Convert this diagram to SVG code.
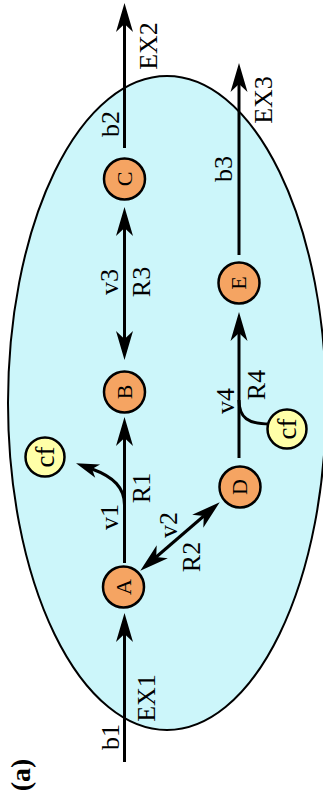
<svg xmlns="http://www.w3.org/2000/svg" width="323" height="799" viewBox="0 0 323 799">
<defs>
<style>
.bg{fill:#fff}
.cell{fill:#ccf6fa;stroke:#000;stroke-width:2}
.met{fill:#f5a462;stroke:#000;stroke-width:2.5}
.cf{fill:#ffffa8;stroke:#000;stroke-width:2.5}
.ln{fill:none;stroke:#000;stroke-width:3}
text{font-family:"Liberation Serif","Times New Roman",serif;fill:#000}
.lab{font-size:26px}
.nl{font-size:22px;text-anchor:middle}
.cft{font-size:27px;text-anchor:middle}
</style>
<marker id="ah" markerUnits="userSpaceOnUse" viewBox="-10 -10 32 20" markerWidth="32" markerHeight="20" refX="0" refY="0" orient="auto-start-reverse">
<path d="M-8,-8.5 L21,0 L-8,8.5 L0,0 Z" fill="#000"/>
</marker>
<marker id="ahs" markerUnits="userSpaceOnUse" viewBox="-10 -10 32 20" markerWidth="32" markerHeight="20" refX="0" refY="0" orient="auto">
<path d="M-6,-7 L17,0 L-6,7 L0,0 Z" fill="#000"/>
</marker>
</defs>
<rect class="bg" x="0" y="0" width="323" height="799"/>
<ellipse class="cell" cx="167" cy="403" rx="159" ry="327"/>
<g id="connectors">
<path class="ln" d="M124.5,148 L124.5,24" marker-end="url(#ah)"/>
<path class="ln" d="M239,255 L239,84" marker-end="url(#ah)"/>
<path class="ln" d="M124.5,228 L124.5,339" marker-start="url(#ah)" marker-end="url(#ah)"/>
<path class="ln" d="M239,458 L239,333" marker-end="url(#ah)"/>
<path class="ln" d="M124.5,563 L124.5,438" marker-end="url(#ah)"/>
<path class="ln" d="M124.5,762 L124.5,634" marker-end="url(#ah)"/>
<path class="ln" d="M156.2,557 L203.8,516" marker-start="url(#ah)" marker-end="url(#ah)"/>
<path class="ln" d="M124.5,505 C124.5,488 114,477 92,469" marker-end="url(#ahs)"/>
<path class="ln" d="M239,400 C239,418 248,424 270,424"/>
</g>
<g id="A"><circle class="met" cx="123.5" cy="587" r="20.5"/><text class="nl" transform="rotate(-90 130.8 587)" x="130.8" y="587">A</text></g>
<g id="B"><circle class="met" cx="124.5" cy="392" r="20.5"/><text class="nl" transform="rotate(-90 131.8 392)" x="131.8" y="392">B</text></g>
<g id="C"><circle class="met" cx="124.5" cy="179" r="20.5"/><text class="nl" transform="rotate(-90 131.8 179)" x="131.8" y="179">C</text></g>
<g id="D"><circle class="met" cx="240" cy="487" r="20.5"/><text class="nl" transform="rotate(-90 247.3 487)" x="247.3" y="487">D</text></g>
<g id="E"><circle class="met" cx="239" cy="283" r="20.5"/><text class="nl" transform="rotate(-90 246.3 283)" x="246.3" y="283">E</text></g>
<g id="cf1"><circle class="cf" cx="45" cy="457" r="19.5"/><text class="cft" transform="rotate(-90 53.5 457)" x="53.5" y="457">cf</text></g>
<g id="cf2"><circle class="cf" cx="287" cy="429" r="19.5"/><text class="cft" transform="rotate(-90 295.5 429)" x="295.5" y="429">cf</text></g>
<g id="labels" class="lab" text-anchor="middle">
<text transform="rotate(-90 157 46)" x="157" y="46">EX2</text>
<text transform="rotate(-90 119 124)" x="119" y="124">b2</text>
<text transform="rotate(-90 272 100)" x="272" y="100">EX3</text>
<text transform="rotate(-90 232 169)" x="232" y="169">b3</text>
<text transform="rotate(-90 118 282)" x="118" y="282">v3</text>
<text transform="rotate(-90 150 282)" x="150" y="282">R3</text>
<text transform="rotate(-90 265 385)" x="265" y="385">R4</text>
<text transform="rotate(-90 234 401)" x="234" y="401">v4</text>
<text transform="rotate(-90 150 488)" x="150" y="488">R1</text>
<text transform="rotate(-90 118 517)" x="118" y="517">v1</text>
<text transform="rotate(-90 177 525)" x="177" y="525">v2</text>
<text transform="rotate(-90 200 557)" x="200" y="557">R2</text>
<text transform="rotate(-90 155 698)" x="155" y="698">EX1</text>
<text transform="rotate(-90 119 737)" x="119" y="737">b1</text>
<text transform="rotate(-90 30 775)" x="30" y="775" font-weight="bold" font-size="28">(a)</text>
</g>
</svg>
